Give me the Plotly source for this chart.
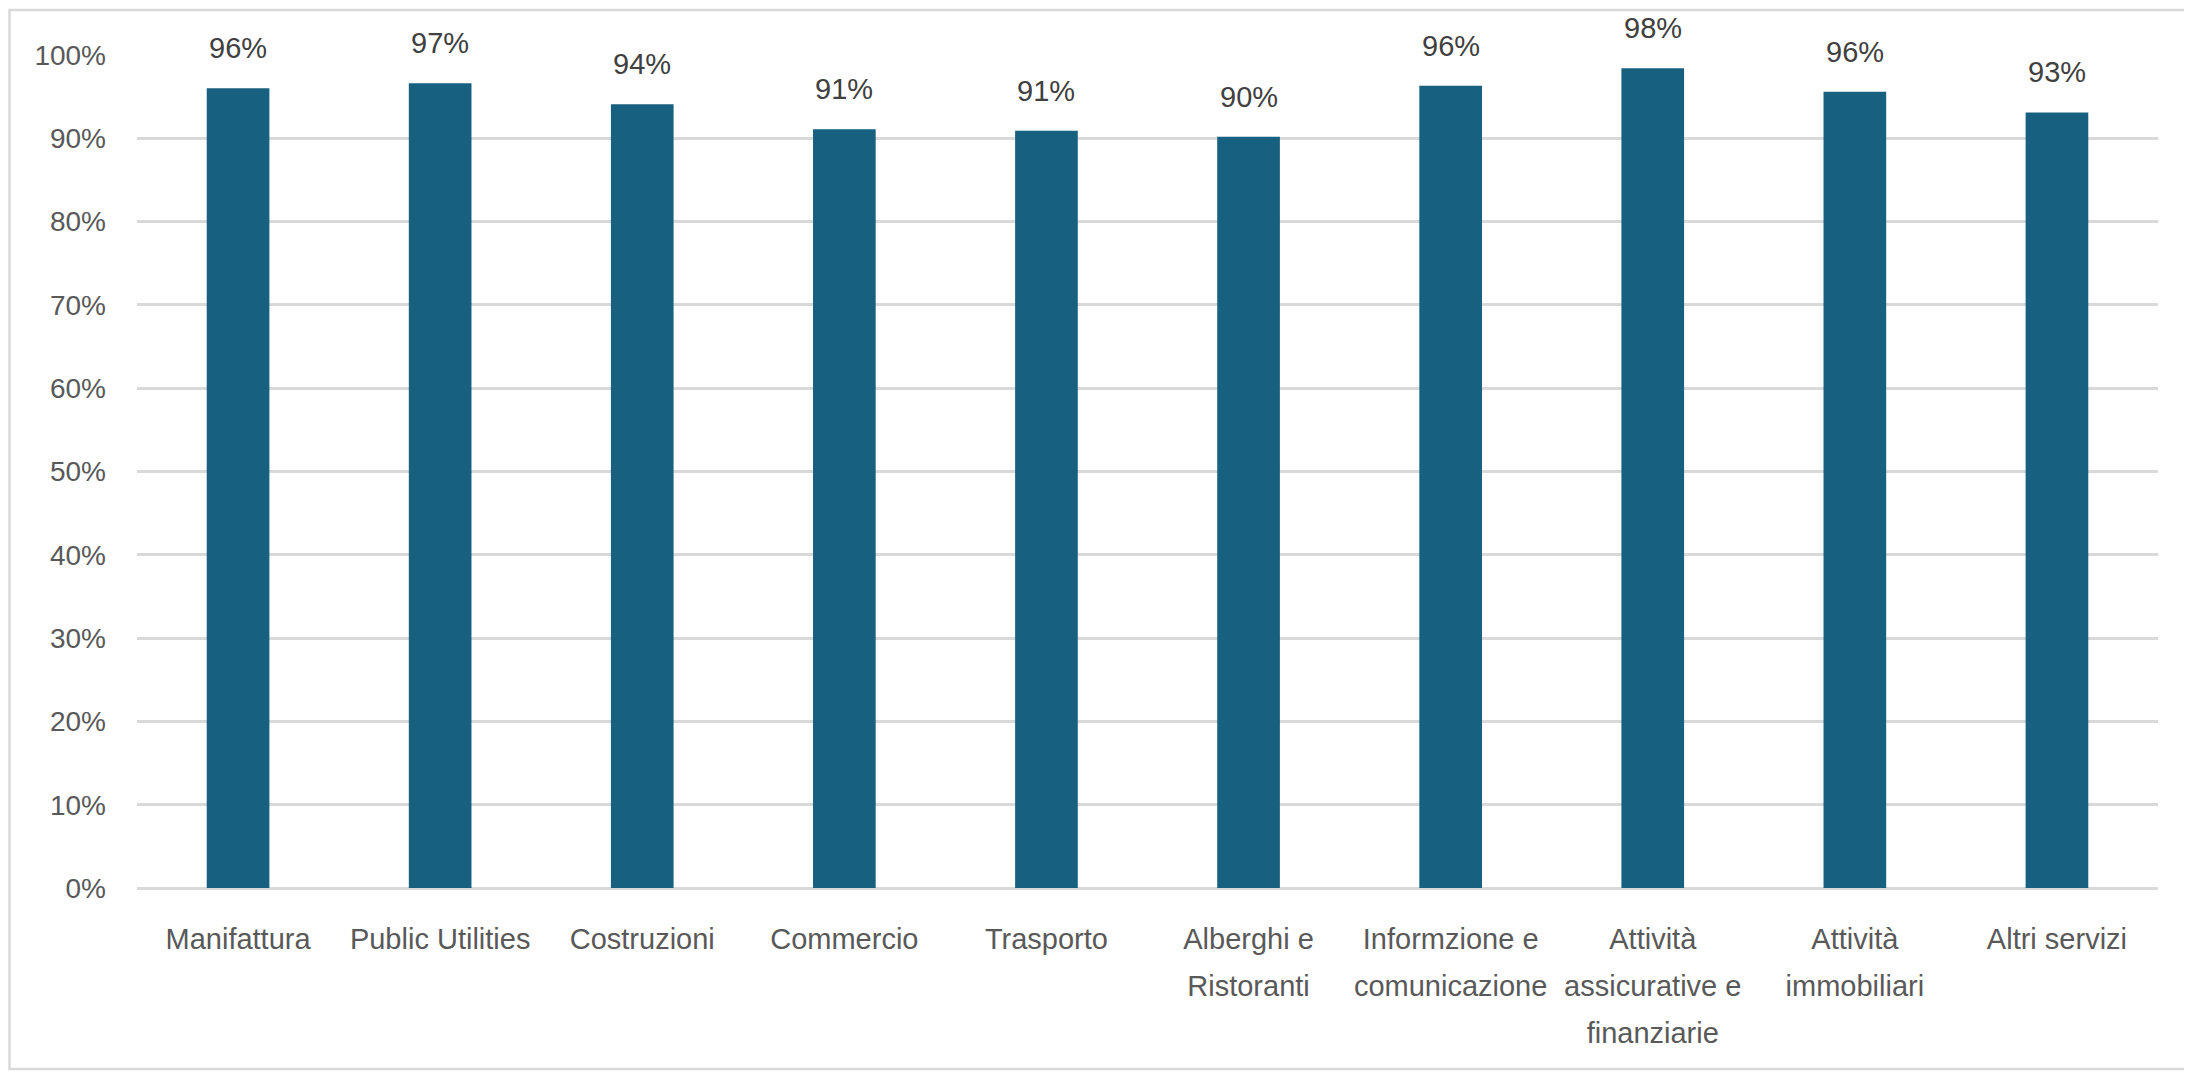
import plotly.graph_objects as go

categories = [
    "Manifattura", "Public Utilities", "Costruzioni", "Commercio", "Trasporto",
    "Alberghi e<br>Ristoranti", "Informzione e<br>comunicazione",
    "Attività<br>assicurative e<br>finanziarie", "Attività<br>immobiliari", "Altri servizi",
]
values = [96.0, 96.6, 94.1, 91.1, 90.9, 90.2, 96.3, 98.4, 95.6, 93.1]
y_ticks = [0, 10, 20, 30, 40, 50, 60, 70, 80, 90, 100]

# page has an 8px body margin; size the figure so the page matches the reference
OFF = 8
W, H = 2192 - OFF, 1073 - OFF
L, T = 137 - OFF, 55 - OFF
R = W - (2158 - OFF)
B = H - (888 - OFF)
pw, ph = W - L - R, H - T - B

BAR = "#17607F"
GRID = "#D9D9D9"

def wrap(label):
    parts = label.split("<br>")
    return "<br>".join('<span style="font-size:29px">%s</span>' % p for p in parts)

xpos = list(range(len(categories)))

fig = go.Figure()
fig.add_trace(go.Bar(
    x=xpos, y=values, marker=dict(color=BAR, line=dict(width=0)),
    hoverinfo="skip",
))

for xi, v in zip(xpos, values):
    fig.add_annotation(
        x=xi, y=v, xref="x", yref="y", text=f"{round(v):d}%",
        showarrow=False, yanchor="bottom", yshift=22,
        font=dict(family="Liberation Sans, Arial, sans-serif", size=29, color="#404040"),
    )

# outer chart border (page pixel coords converted to paper coords)
def px_x(p):
    return (p - OFF - L) / pw
def px_y(p):
    return (H - B - (p - OFF)) / ph

fig.add_shape(type="rect", xref="paper", yref="paper",
              x0=px_x(9.5), x1=px_x(2188), y0=px_y(1069), y1=px_y(10),
              line=dict(color=GRID, width=2.5), fillcolor="rgba(0,0,0,0)", layer="below")

fig.update_layout(
    width=W, height=H,
    margin=dict(l=L, r=R, t=T, b=B, pad=0),
    paper_bgcolor="white", plot_bgcolor="white",
    bargap=0.69, showlegend=False,
    font=dict(family="Liberation Sans, Arial, sans-serif", color="#595959"),
    xaxis=dict(
        tickmode="array", tickvals=xpos, ticktext=[wrap(c) for c in categories],
        range=[-0.5, len(categories) - 0.5],
        showgrid=False, zeroline=False, showline=False, ticks="",
        tickfont=dict(size=36, color="#595959"), ticklabelstandoff=24,
        tickangle=0,
    ),
    yaxis=dict(
        range=[0, 100], tickmode="array", tickvals=y_ticks,
        ticktext=[f"{t}%" for t in y_ticks],
        showgrid=True, gridcolor=GRID, gridwidth=2.5,
        zeroline=True, zerolinecolor=GRID, zerolinewidth=2.5,
        showline=False, ticks="",
        tickfont=dict(size=28, color="#595959"), ticklabelstandoff=30,
    ),
)

fig.write_html("out.html")
